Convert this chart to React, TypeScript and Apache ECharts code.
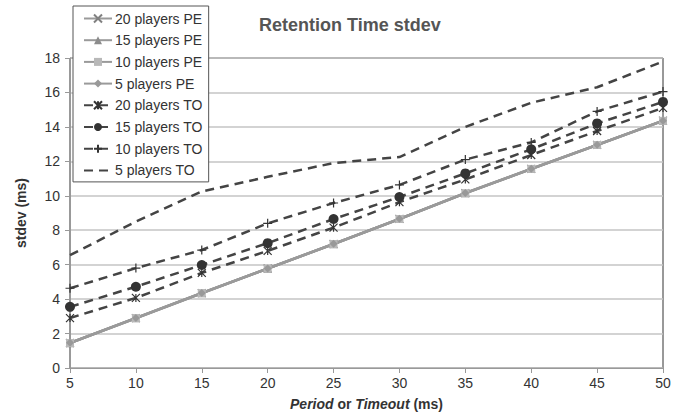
import React, { useEffect, useRef } from "react";
import * as echarts from "echarts";

const xValues = [5, 10, 15, 20, 25, 30, 35, 40, 45, 50];
const yTicks = [0, 2, 4, 6, 8, 10, 12, 14, 16, 18];

const pe20 = [1.45, 2.9, 4.35, 5.78, 7.2, 8.66, 10.15, 11.56, 12.96, 14.36];
const pe15 = [1.44, 2.89, 4.34, 5.77, 7.19, 8.65, 10.14, 11.55, 12.95, 14.35];
const pe10 = [1.45, 2.9, 4.35, 5.77, 7.2, 8.65, 10.15, 11.56, 12.95, 14.35];
const pe5 = [1.46, 2.91, 4.36, 5.78, 7.21, 8.66, 10.16, 11.57, 12.96, 14.36];
const to20 = [2.9, 4.07, 5.52, 6.8, 8.15, 9.63, 10.95, 12.37, 13.76, 15.1];
const to15 = [3.55, 4.72, 5.98, 7.25, 8.65, 9.93, 11.3, 12.7, 14.2, 15.45];
const to10 = [4.63, 5.8, 6.85, 8.4, 9.58, 10.63, 12.1, 13.1, 14.9, 16.05];
const to5 = [6.55, 8.5, 10.25, 11.1, 11.9, 12.25, 14.0, 15.4, 16.3, 17.8];

const seriesNames = [
  "20 players PE",
  "15 players PE",
  "10 players PE",
  "5 players PE",
  "20 players TO",
  "15 players TO",
  "10 players TO",
  "5 players TO",
];

const crossPath = "path://M0,0L10,10M10,0L0,10";
const asteriskPath = "path://M0,0L10,10M10,0L0,10M5,0L5,10";
const plusPath = "path://M5,0L5,10M0,5L10,5";

const pair = (ys: number[]) => xValues.map((x, i) => [x, ys[i]]);

export default function App() {
  const ref = useRef<HTMLDivElement>(null);
  useEffect(() => {
    if (!ref.current) return;
    const chart = echarts.init(ref.current, null, { renderer: "svg" });
    const font = "Liberation Sans, Arial, sans-serif";
    const peStyle = (name: string, data: number[], color: string, symbol: string, size: number, stroke = false) => ({
      name,
      type: "line",
      data: pair(data),
      symbol,
      symbolSize: size,
      showSymbol: true,
      lineStyle: { color: "#9a9a9a", width: 2.5, type: "solid" },
      itemStyle: stroke
        ? { color: "rgba(0,0,0,0)", borderColor: color, borderWidth: 1.2 }
        : { color, borderColor: color, borderWidth: 0 },
      color: "#9a9a9a",
    });
    const toStyle = (name: string, data: number[], symbol: string, size: number, stroke = false, hidden = false) => ({
      name,
      type: "line",
      data: pair(data),
      symbol,
      symbolSize: size,
      showSymbol: !hidden,
      lineStyle: { color: "#444444", width: 2.5, type: [9, 6] },
      itemStyle: hidden
        ? { color: "#333", opacity: 0 }
        : stroke
        ? { color: "rgba(0,0,0,0)", borderColor: "#333", borderWidth: 1.2 }
        : { color: "#333", borderColor: "#333", borderWidth: 0 },
      color: "#444444",
    });
    chart.setOption({
      animation: false,
      backgroundColor: "#ffffff",
      textStyle: { fontFamily: font },
      title: {
        text: "Retention Time stdev",
        left: 254,
        top: 11,
        textStyle: { fontFamily: font, fontSize: 18, fontWeight: "bold", color: "#555555" },
      },
      grid: {
        left: 70,
        top: 58,
        width: 593,
        height: 310,
        show: true,
        borderColor: "#333333",
        borderWidth: 1,
        backgroundColor: "transparent",
      },
      legend: {
        data: seriesNames,
        orient: "vertical",
        left: 73,
        top: 6,
        padding: [5, 6, 4, 10],
        itemWidth: 28,
        itemHeight: 10,
        itemGap: 6.7,
        backgroundColor: "#ffffff",
        borderColor: "#555555",
        borderWidth: 1,
        borderRadius: 0,
        textStyle: { fontFamily: font, fontSize: 14, color: "#333333", lineHeight: 15, padding: [0, 0, 0, -2] },
        z: 10,
      },
      xAxis: {
        type: "value",
        min: 5,
        max: 50,
        interval: 5,
        name: "{i|Period}{b| or }{i|Timeout}{b| (ms)}",
        nameLocation: "middle",
        nameGap: 29,
        nameTextStyle: {
          rich: {
            i: { fontFamily: font, fontSize: 14, fontWeight: "bold", fontStyle: "italic", color: "#333" },
            b: { fontFamily: font, fontSize: 14, fontWeight: "bold", color: "#333" },
          },
        },
        axisLine: { show: true, lineStyle: { color: "#999999", width: 1 } },
        axisTick: { show: true, length: 5, lineStyle: { color: "#999999" } },
        axisLabel: { fontFamily: font, fontSize: 14, color: "#333333", margin: 8 },
        splitLine: { show: false },
      },
      yAxis: {
        type: "value",
        min: yTicks[0],
        max: yTicks[yTicks.length - 1],
        interval: 2,
        name: "stdev (ms)",
        nameLocation: "middle",
        nameGap: 42,
        nameTextStyle: { fontFamily: font, fontSize: 14, fontWeight: "bold", color: "#333" },
        axisLine: { show: true, lineStyle: { color: "#999999", width: 1 } },
        axisTick: { show: true, length: 5, lineStyle: { color: "#999999" } },
        axisLabel: { fontFamily: font, fontSize: 14, color: "#333333", margin: 10 },
        splitLine: { show: true, lineStyle: { color: "#c4c4c4", width: 1.5 } },
      },
      series: [
        peStyle(seriesNames[0], pe20, "#808080", crossPath, 8, true),
        peStyle(seriesNames[1], pe15, "#8c8c8c", "triangle", 8),
        peStyle(seriesNames[2], pe10, "#b8b8b8", "rect", 8),
        peStyle(seriesNames[3], pe5, "#999999", "diamond", 8),
        toStyle(seriesNames[4], to20, asteriskPath, 8, true),
        toStyle(seriesNames[5], to15, "circle", 10),
        toStyle(seriesNames[6], to10, plusPath, 9, true),
        toStyle(seriesNames[7], to5, "circle", 4, false, true),
      ],
    });
    return () => chart.dispose();
  }, []);
  return (
    <div
      ref={ref}
      style={{ position: "fixed", left: 0, top: 0, width: 695, height: 417 }}
    />
  );
}
